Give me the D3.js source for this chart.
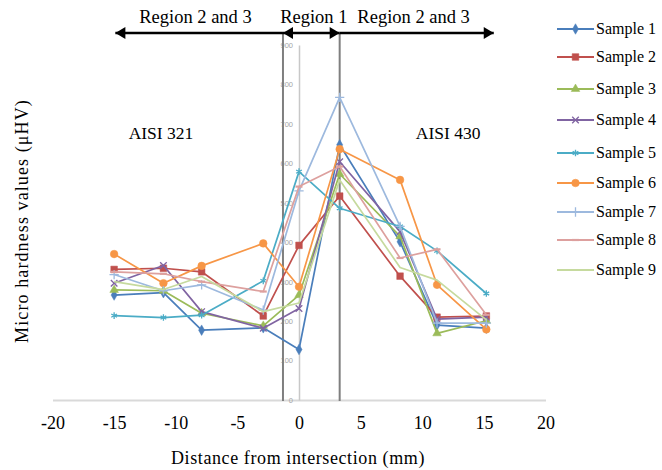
<!DOCTYPE html>
<html>
<head>
<meta charset="utf-8">
<script src="https://cdn.jsdelivr.net/npm/d3@7"></script>
<style>
  html, body { margin: 0; padding: 0; background: #fff; }
  svg { display: block; }
  text { font-family: "Liberation Serif", "Times New Roman", serif; }
</style>
</head>
<body>
<svg id="chart" width="662" height="470"></svg>
<script>
// ---------- data ----------
const distances = [-15, -11, -7.9, -2.9, 0, 3.3, 8.2, 11.2, 15.2];
const seriesNames = ["Sample 1","Sample 2","Sample 3","Sample 4","Sample 5","Sample 6","Sample 7","Sample 8","Sample 9"];
const sample1 = [266, 272, 177, 183, 128, 647, 401, 190, 182];
const sample2 = [331, 334, 325, 213, 392, 517, 314, 210, 213];
const sample3 = [279, 277, 220, 188, 266, 573, 415, 169, 201];
const sample4 = [296, 341, 224, 182, 232, 604, 427, 205, 210];
const sample5 = [214, 209, 215, 302, 579, 486, 440, 378, 270];
const sample6 = [370, 296, 340, 397, 287, 636, 558, 292, 179];
const sample7 = [318, 277, 292, 228, 530, 767, 440, 195, 195];
const sample8 = [325, 320, 300, 275, 541, 592, 360, 382, 216];
const sample9 = [300, 280, 313, 224, 246, 558, 336, 304, 203];
const seriesValues = [sample1, sample2, sample3, sample4, sample5, sample6, sample7, sample8, sample9];
const xTicks = [-20, -15, -10, -5, 0, 5, 10, 15, 20];
const yTicks = [0, 100, 200, 300, 400, 500, 600, 700, 800, 900];
const regionBounds = [-1.3, 3.3];           // region 1 boundaries (mm)
const regionArrows = [
  { from: -1.3, to: -14.9, label: "Region 2 and 3", labelAt: -8.4 },
  { from: -1.3, to: 3.3, both: true, label: "Region 1", labelAt: 1.2 },
  { from: 3.3, to: 15.8, label: "Region 2 and 3", labelAt: 9.3 }
];
const materialLabels = [ { text: "AISI 321", at: -11.2 }, { text: "AISI 430", at: 12.1 } ];

// ---------- styles ----------
const colors = ["#4A7EBB","#C0504D","#9BBB59","#8064A2","#4BACC6","#F79646","#9DB9DE","#DDA09E","#C6DA9E"];
const markers = ["diamond","square","triangle","times","asterisk","circle","plus","dash","none"];
const legendY = [29, 57, 89, 120, 153, 183, 212, 240, 270];

const svg = d3.select("#chart");
const x = d3.scaleLinear().domain([-20, 20]).range([52.5, 545.5]);
const y = d3.scaleLinear().domain([0, 900]).range([400, 45]);

// x axis
const xAxis = svg.append("g").attr("transform", `translate(0,${y(0)})`)
  .call(d3.axisBottom(x).tickValues(xTicks).tickSize(0).tickPadding(16).tickFormat(d => String(d)));
xAxis.select(".domain").attr("stroke", "#D9D9D9").attr("stroke-width", 2);
xAxis.selectAll("text").attr("font-size", 18).attr("fill", "#000")
  .style("font-family", '"Liberation Serif", serif');

// y axis at x=0
const yAxis = svg.append("g").attr("transform", `translate(${x(0)},0)`)
  .call(d3.axisLeft(y).tickValues(yTicks).tickSize(0).tickPadding(6));
yAxis.select(".domain").attr("stroke", "#C8C8C8").attr("stroke-width", 1.5);
yAxis.selectAll("text").attr("font-size", 7.5).attr("fill", "#A5A5A5")
  .style("font-family", '"Liberation Sans", sans-serif');

// region boundary lines
svg.selectAll(".bound").data(regionBounds).enter().append("line")
  .attr("x1", d => x(d)).attr("x2", d => x(d))
  .attr("y1", 33).attr("y2", y(0) + 1)
  .attr("stroke", "#7F7F7F").attr("stroke-width", 2);

// series
const line = d3.line().x((d, i) => x(distances[i])).y(d => y(d));
const symbolMap = {
  diamond: d3.symbol().type(d3.symbolDiamond).size(32),
  square: d3.symbol().type(d3.symbolSquare).size(44),
  triangle: d3.symbol().type(d3.symbolTriangle).size(32),
  times: d3.symbol().type(d3.symbolTimes).size(30),
  asterisk: d3.symbol().type(d3.symbolAsterisk).size(30),
  circle: d3.symbol().type(d3.symbolCircle).size(46),
  plus: d3.symbol().type(d3.symbolPlus).size(30)
};
const strokeSymbols = new Set(["times", "asterisk", "plus"]);

function drawMarker(g, type, color, cx, cy) {
  if (type === "none") return;
  if (type === "dash") {
    g.append("line").attr("x1", cx - 3.5).attr("x2", cx + 3.5).attr("y1", cy).attr("y2", cy)
      .attr("stroke", color).attr("stroke-width", 2.2);
    return;
  }
  const p = g.append("path").attr("d", symbolMap[type]()).attr("transform", `translate(${cx},${cy})`);
  if (strokeSymbols.has(type)) p.attr("fill", "none").attr("stroke", color).attr("stroke-width", 1.3);
  else p.attr("fill", color).attr("stroke", color).attr("stroke-width", 0.5);
}

seriesValues.forEach((vals, s) => {
  const g = svg.append("g");
  g.append("path").attr("d", line(vals)).attr("fill", "none")
    .attr("stroke", colors[s]).attr("stroke-width", 1.7).attr("stroke-linejoin", "round");
  vals.forEach((v, i) => drawMarker(g, markers[s], colors[s], x(distances[i]), y(v)));
});

// region arrows
const arrowY = 33;
function arrowHead(px, dir) {
  const L = 10, H = 6;
  return `M${px},${arrowY} L${px - dir * L},${arrowY - H} L${px - dir * L},${arrowY + H} Z`;
}
regionArrows.forEach(a => {
  const x1 = x(a.from), x2 = x(a.to);
  svg.append("line").attr("x1", x1).attr("x2", x2).attr("y1", arrowY).attr("y2", arrowY)
    .attr("stroke", "#000").attr("stroke-width", 2.5);
  const dir = x2 > x1 ? 1 : -1;
  svg.append("path").attr("d", arrowHead(x2, dir)).attr("fill", "#000");
  if (a.both) svg.append("path").attr("d", arrowHead(x1, -dir)).attr("fill", "#000");
  svg.append("text").attr("x", x(a.labelAt)).attr("y", 23).attr("text-anchor", "middle")
    .attr("font-size", 18.5).text(a.label);
});

// material labels
materialLabels.forEach(m => {
  svg.append("text").attr("x", x(m.at)).attr("y", 139).attr("text-anchor", "middle")
    .attr("font-size", 17.5).text(m.text);
});

// axis titles
svg.append("text").attr("x", 298).attr("y", 464).attr("text-anchor", "middle")
  .attr("font-size", 18).attr("letter-spacing", 0.6).text("Distance from intersection (mm)");
svg.append("text").attr("transform", "translate(28,221) rotate(-90)").attr("text-anchor", "middle")
  .attr("font-size", 18).attr("letter-spacing", 1.1).text("Micro hardness values (μHV)");

// legend
seriesNames.forEach((name, s) => {
  const g = svg.append("g");
  const ly = legendY[s];
  g.append("line").attr("x1", 557).attr("x2", 594).attr("y1", ly).attr("y2", ly)
    .attr("stroke", colors[s]).attr("stroke-width", 2);
  drawMarker(g, markers[s], colors[s], 575.5, ly);
  g.append("text").attr("x", 596).attr("y", ly).attr("dy", "0.33em")
    .attr("font-size", 16).text(name);
});
</script>
</body>
</html>
